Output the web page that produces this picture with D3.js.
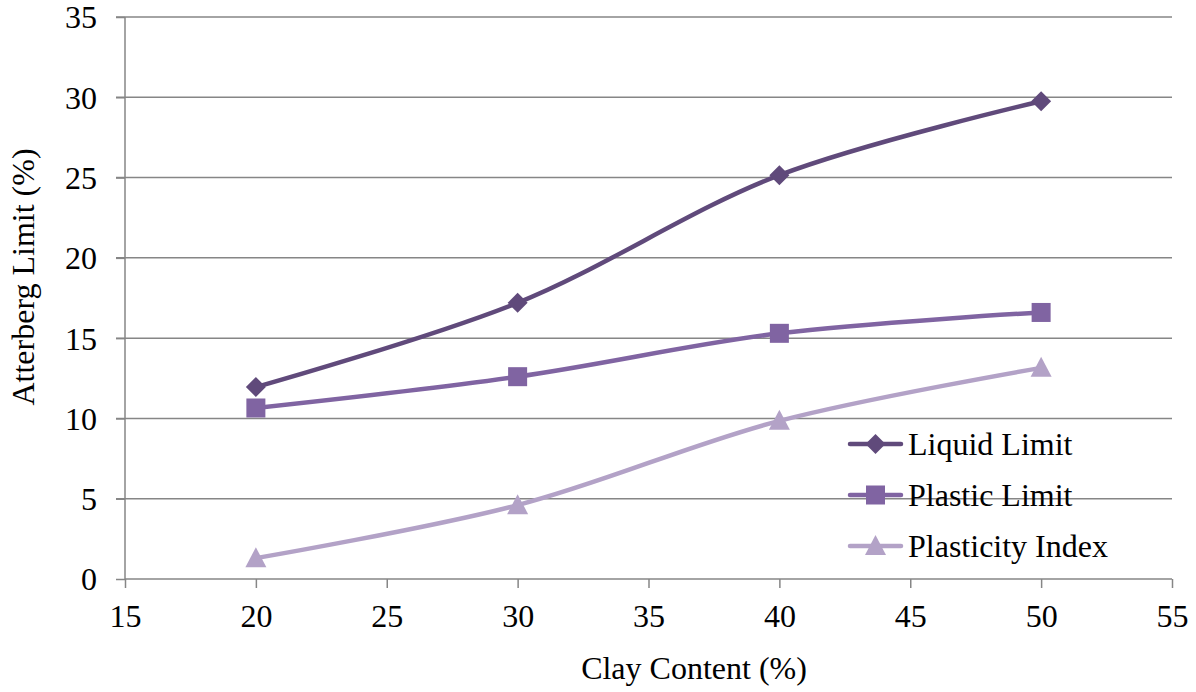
<!DOCTYPE html>
<html>
<head>
<meta charset="utf-8">
<script src="https://cdn.jsdelivr.net/npm/d3@7"></script>
<style>
  html, body { margin: 0; padding: 0; background: #fff; }
  svg { display: block; font-family: "Liberation Serif", "Times New Roman", serif; }
</style>
</head>
<body>
<svg id="chart" width="1196" height="692"></svg>
<script>
// Clay content (%) and Atterberg limits (%)
const clayContent = [20, 30, 40, 50];
const liquidLimit = [11.95, 17.2, 25.15, 29.75];
const plasticLimit = [10.65, 12.6, 15.3, 16.6];
const plasticityIndex = [1.3, 4.6, 9.85, 13.15];

const xTicks = [15, 20, 25, 30, 35, 40, 45, 50, 55];
const yTicks = [0, 5, 10, 15, 20, 25, 30, 35];

const seriesNames = ["Liquid Limit", "Plastic Limit", "Plasticity Index"];
const seriesColors = ["#604a7b", "#8064a2", "#b3a2c7"];
const seriesSymbols = ["diamond", "square", "triangle"];

const svg = d3.select("#chart");
const fontFamily = "Liberation Serif, Times New Roman, serif";
const fontSize = 32;
const plot = { left: 125, right: 1172, top: 17, bottom: 579 };

const x = d3.scaleLinear().domain([15, 55]).range([plot.left, plot.right]);
const y = d3.scaleLinear().domain([0, 35]).range([plot.bottom, plot.top]);

const gridColor = "#868686";

// horizontal gridlines
svg.append("g")
  .selectAll("line")
  .data(yTicks.filter(d => d > 0))
  .join("line")
  .attr("x1", x(15) - 9).attr("x2", x(55))
  .attr("y1", d => y(d)).attr("y2", d => y(d))
  .attr("stroke", gridColor).attr("stroke-width", 1.5);

// y axis
const yAxis = d3.axisLeft(y).tickValues(yTicks).tickSize(9).tickPadding(19).tickFormat(d3.format("d"));
const gy = svg.append("g").attr("transform", `translate(${x(15)},0)`).call(yAxis);
gy.attr("font-family", fontFamily).attr("font-size", fontSize);
gy.selectAll("path, line").attr("stroke", gridColor).attr("stroke-width", 1.5);
gy.select(".domain").attr("d", `M0,${y(0)}V${y(35)}`);
gy.selectAll("text").attr("fill", "#000").attr("dy", "0.34em");

// x axis
const xAxis = d3.axisBottom(x).tickValues(xTicks).tickSize(9).tickPadding(16).tickFormat(d3.format("d"));
const gx = svg.append("g").attr("transform", `translate(0,${y(0)})`).call(xAxis);
gx.attr("font-family", fontFamily).attr("font-size", fontSize);
gx.selectAll("path, line").attr("stroke", gridColor).attr("stroke-width", 1.5);
gx.select(".domain").attr("d", `M${x(15)},0H${x(55)}`);
gx.selectAll("text").attr("fill", "#000");

// axis titles
svg.append("text")
  .attr("x", 694).attr("y", 679)
  .attr("text-anchor", "middle").attr("font-size", fontSize)
  .text("Clay Content (%)");
svg.append("text")
  .attr("transform", `translate(34,277) rotate(-90)`)
  .attr("text-anchor", "middle").attr("font-size", fontSize)
  .text("Atterberg Limit (%)");

const seriesValues = [liquidLimit, plasticLimit, plasticityIndex];

const line = d3.line()
  .x((d, i) => x(clayContent[i]))
  .y(d => y(d))
  .curve(d3.curveCatmullRom.alpha(0.5));

function drawMarker(g, type, cx, cy, color) {
  if (type === "diamond") {
    const r = 10;
    g.append("path")
      .attr("d", `M${cx},${cy - r}L${cx + r},${cy}L${cx},${cy + r}L${cx - r},${cy}Z`)
      .attr("fill", color);
  } else if (type === "square") {
    const s = 19;
    g.append("rect")
      .attr("x", cx - s / 2).attr("y", cy - s / 2)
      .attr("width", s).attr("height", s)
      .attr("fill", color);
  } else {
    const h = 20, w = 21;
    g.append("path")
      .attr("d", `M${cx},${cy - h * 0.55}L${cx + w / 2},${cy + h * 0.45}L${cx - w / 2},${cy + h * 0.45}Z`)
      .attr("fill", color);
  }
}

// series lines and markers
seriesValues.forEach((vals, si) => {
  const g = svg.append("g");
  g.append("path")
    .datum(vals)
    .attr("d", line)
    .attr("fill", "none")
    .attr("stroke", seriesColors[si])
    .attr("stroke-width", 4.5)
    .attr("stroke-linecap", "round");
  vals.forEach((v, i) => drawMarker(g, seriesSymbols[si], x(clayContent[i]), y(v), seriesColors[si]));
});

// legend
const legendRows = [444, 495, 546];
seriesNames.forEach((name, si) => {
  const g = svg.append("g");
  const cy = legendRows[si];
  g.append("line")
    .attr("x1", 850).attr("x2", 901).attr("y1", cy).attr("y2", cy)
    .attr("stroke", seriesColors[si]).attr("stroke-width", 4.5).attr("stroke-linecap", "round");
  drawMarker(g, seriesSymbols[si], 875.5, cy, seriesColors[si]);
  g.append("text")
    .attr("x", 908).attr("y", cy + 11)
    .attr("font-size", fontSize)
    .text(name);
});
</script>
</body>
</html>
